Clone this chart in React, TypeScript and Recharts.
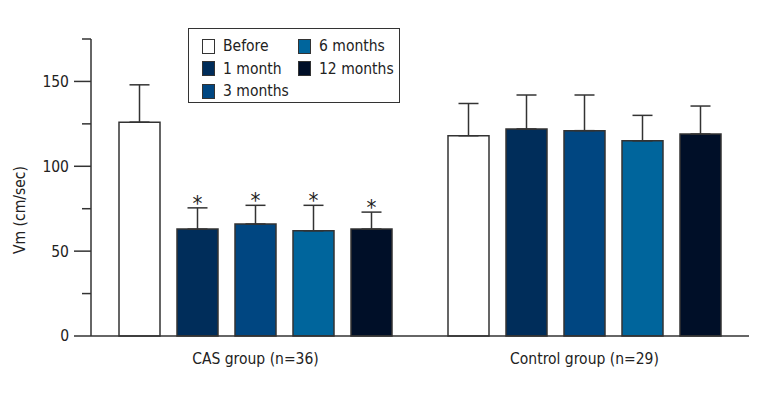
import { BarChart, Bar, XAxis, YAxis, ErrorBar, Legend, LabelList } from 'recharts'

const categories = ['CAS group (n=36)', 'Control group (n=29)']

const before = [126, 118]
const beforeSd = [22, 19]
const month1 = [63, 122]
const month1Sd = [12.5, 20]
const month3 = [66, 121]
const month3Sd = [11, 21]
const month6 = [62, 115]
const month6Sd = [15, 15]
const month12 = [63, 119]
const month12Sd = [10, 16.5]
// * = significant vs. before
const significant = [true, false]

const yTicks = [0, 25, 50, 75, 100, 125, 150, 175]
const majorTicks = [0, 50, 100, 150]

const FONT = '"Liberation Sans Narrow", "DejaVu Sans Condensed", "Noto Sans", sans-serif'
const FS = 15.5
const INK = '#333333'

const series = [
  { key: 'before', name: 'Before', color: '#ffffff' },
  { key: 'm1', name: '1 month', color: '#002d5a' },
  { key: 'm3', name: '3 months', color: '#004681' },
  { key: 'm6', name: '6 months', color: '#00659c' },
  { key: 'm12', name: '12 months', color: '#000f28' },
]

const data = categories.map((group, i) => ({
  group,
  before: before[i],
  beforeErr: [0, beforeSd[i]],
  m1: month1[i],
  m1Err: [0, month1Sd[i]],
  m3: month3[i],
  m3Err: [0, month3Sd[i]],
  m6: month6[i],
  m6Err: [0, month6Sd[i]],
  m12: month12[i],
  m12Err: [0, month12Sd[i]],
}))

function YTick(props: any) {
  const { x, y, payload } = props
  const major = majorTicks.includes(payload.value)
  return (
    <g>
      <line x1={x - (major ? 17 : 9)} x2={x} y1={y} y2={y} stroke={INK} strokeWidth={1.5} />
      {major && (
        <text x={x - 22} y={y} dy="0.35em" textAnchor="end" fontFamily={FONT} fontSize={FS} fill="#222">
          {payload.value}
        </text>
      )}
    </g>
  )
}

function StarLabel(sdKey: string) {
  return (props: any) => {
    const { x, y, width, height, value, index } = props
    if (!significant[index] || !value) return null
    const sd = (data[index] as any)[sdKey][1]
    const top = y - (sd * height) / value
    return (
      <text x={x + width / 2} y={top + 3} textAnchor="middle" fontFamily={FONT} fontSize={22} fill="#222">
        *
      </text>
    )
  }
}

function LegendBox() {
  const cols = [series.slice(0, 3), series.slice(3)]
  return (
    <div
      style={{
        width: 210,
        height: 73,
        border: `1.5px solid ${INK}`,
        background: '#fff',
        fontFamily: FONT,
        fontSize: FS,
        color: '#222',
        position: 'relative',
        textAlign: 'left',
      }}
    >
      {cols.map((col, c) =>
        col.map((s, r) => (
          <div
            key={s.key}
            style={{
              position: 'absolute',
              left: c === 0 ? 13 : 109,
              top: 7 + r * 22.5,
              display: 'flex',
              alignItems: 'center',
              whiteSpace: 'nowrap',
              lineHeight: '20px',
            }}
          >
            <span
              style={{
                display: 'inline-block',
                width: 11,
                height: 13,
                background: s.color,
                border: `1px solid ${INK}`,
                marginRight: 8,
              }}
            />
            {s.name}
          </div>
        ))
      )}
    </div>
  )
}

export default function App() {
  return (
    <div style={{ position: 'absolute', left: 0, top: 0, background: '#fff' }}>
      <BarChart
        width={760}
        height={400}
        data={data}
        margin={{ top: 39, right: 11, left: 11, bottom: 34 }}
        barCategoryGap={28}
        barGap={17}
      >
        <XAxis
          dataKey="group"
          axisLine={{ stroke: INK, strokeWidth: 1.5 }}
          tickLine={false}
          tickSize={0}
          tickMargin={17}
          height={30}
          tick={{ fontFamily: FONT, fontSize: FS, fill: '#222' }}
        />
        <YAxis
          width={80}
          domain={[0, 175]}
          ticks={yTicks}
          interval={0}
          axisLine={{ stroke: INK, strokeWidth: 1.5 }}
          tickLine={false}
          tickSize={0}
          tickMargin={0}
          tick={<YTick />}
          label={{
            content: () => (
              <text
                transform="translate(20,210) rotate(-90)"
                textAnchor="middle"
                dy="0.35em"
                fontFamily={FONT}
                fontSize={FS}
                fill="#222"
              >
                Vm (cm/sec)
              </text>
            ),
          }}
        />
        <Legend
          layout="horizontal"
          verticalAlign="middle"
          align="center"
          content={() => <LegendBox />}
          wrapperStyle={{ position: 'absolute', left: 188, top: 28, width: 'auto', height: 'auto' }}
        />
        {series.map((s) => (
          <Bar
            key={s.key}
            dataKey={s.key}
            name={s.name}
            fill={s.color}
            stroke={INK}
            strokeWidth={1.5}
            isAnimationActive={false}
          >
            <ErrorBar dataKey={`${s.key}Err`} width={10} stroke={INK} strokeWidth={1.5} direction="y" />
            {s.key !== 'before' && <LabelList dataKey={s.key} content={StarLabel(`${s.key}Err`)} />}
          </Bar>
        ))}
      </BarChart>
    </div>
  )
}
